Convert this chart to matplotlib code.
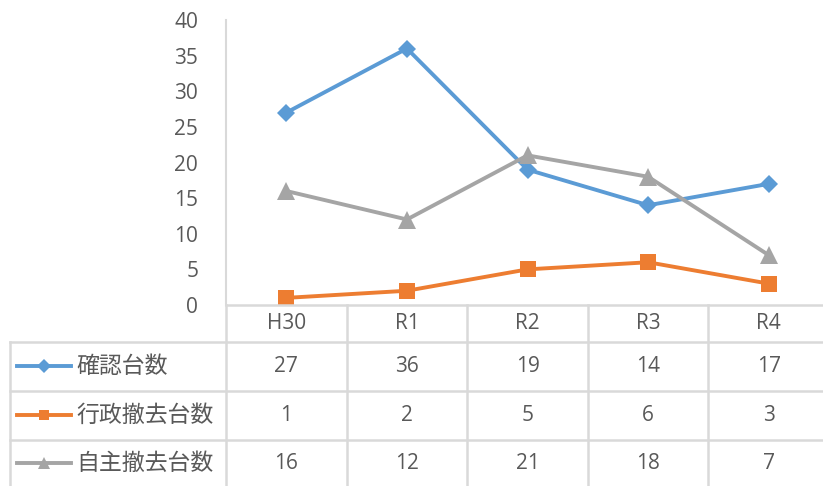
import matplotlib.pyplot as plt
from matplotlib.lines import Line2D
from matplotlib.transforms import blended_transform_factory

plt.rcParams['font.family'] = ['Noto Sans CJK JP', 'DejaVu Sans']

categories = ['H30', 'R1', 'R2', 'R3', 'R4']
series_names = ['確認台数', '行政撤去台数', '自主撤去台数']
confirmed = [27, 36, 19, 14, 17]
admin_removed = [1, 2, 5, 6, 3]
self_removed = [16, 12, 21, 18, 7]
y_ticks = [0, 5, 10, 15, 20, 25, 30, 35, 40]

series = [confirmed, admin_removed, self_removed]
colors = ['#5B9BD5', '#ED7D31', '#A5A5A5']
markers = ['D', 's', '^']
marker_sizes = [9.5, 12, 12.5]
key_sizes = [7.5, 7.5, 8.5]
text_color = '#595959'
grid_color = '#D9D9D9'
num_font = ['Open Sans', 'DejaVu Sans']
num_size = 15

W, H = 823, 486
fig = plt.figure(figsize=(W / 100, H / 100), dpi=100)


def fx(px):
    return px / W


def fy(py):
    return 1 - py / H


# plot area in pixels: x 226..829, y 20..305
ax = fig.add_axes([fx(226), fy(305), fx(829) - fx(226), fy(20) - fy(305)])
x = list(range(len(categories)))
for vals, c, m, ms in zip(series, colors, markers, marker_sizes):
    ax.plot(x, vals, color=c, linewidth=2.8, marker=m, markersize=ms,
            markeredgewidth=0, markerfacecolor=c, clip_on=False, zorder=3)

ax.set_xlim(-0.5, len(categories) - 0.5)
ax.set_ylim(0, 40)
ax.set_yticks(y_ticks)
ax.set_xticks([])
for s in ['top', 'right', 'bottom']:
    ax.spines[s].set_visible(False)
ax.spines['left'].set_color(grid_color)
ax.spines['left'].set_linewidth(1.5)
ax.tick_params(axis='y', length=0, pad=20, labelsize=num_size,
               labelcolor=text_color)
for lab in ax.get_yticklabels():
    lab.set_fontfamily(num_font)

# data table below the plot
trans = blended_transform_factory(ax.transData, fig.transFigure)
row_lines = [305, 342, 391, 440, 489]
row_centers = [366, 415, 463]
lw = 1.8

# horizontal lines
fig.add_artist(Line2D([fx(226), 1.01], [fy(305)] * 2, color=grid_color, lw=lw))
for py in row_lines[1:]:
    fig.add_artist(Line2D([fx(10), 1.01], [fy(py)] * 2, color=grid_color, lw=lw))
# vertical lines
fig.add_artist(Line2D([fx(10)] * 2, [fy(342), fy(489)], color=grid_color, lw=lw))
fig.add_artist(Line2D([fx(226)] * 2, [fy(305), fy(489)], color=grid_color, lw=lw))
for i in range(1, len(categories)):
    fig.add_artist(Line2D([i - 0.5] * 2, [fy(305), fy(489)], transform=trans,
                          color=grid_color, lw=lw))

# category labels
for i, cat in enumerate(categories):
    fig.text(i, fy(323), cat, transform=trans, ha='center', va='center',
             fontsize=num_size, color=text_color, family=num_font)

# rows
for name, vals, c, m, ks, cy in zip(series_names, series, colors, markers,
                                     key_sizes, row_centers):
    fig.add_artist(Line2D([fx(17), fx(71)], [fy(cy)] * 2, color=c, lw=2.8))
    fig.add_artist(Line2D([fx(44)], [fy(cy)], color=c, marker=m,
                          markersize=ks, markeredgewidth=0, markerfacecolor=c))
    fig.text(fx(76), fy(cy), name, ha='left', va='center', fontsize=16.5,
             color=text_color)
    for i, v in enumerate(vals):
        fig.text(i, fy(cy), str(v), transform=trans, ha='center', va='center',
                 fontsize=num_size, color=text_color, family=num_font)

fig.savefig('out.png', dpi=100)
